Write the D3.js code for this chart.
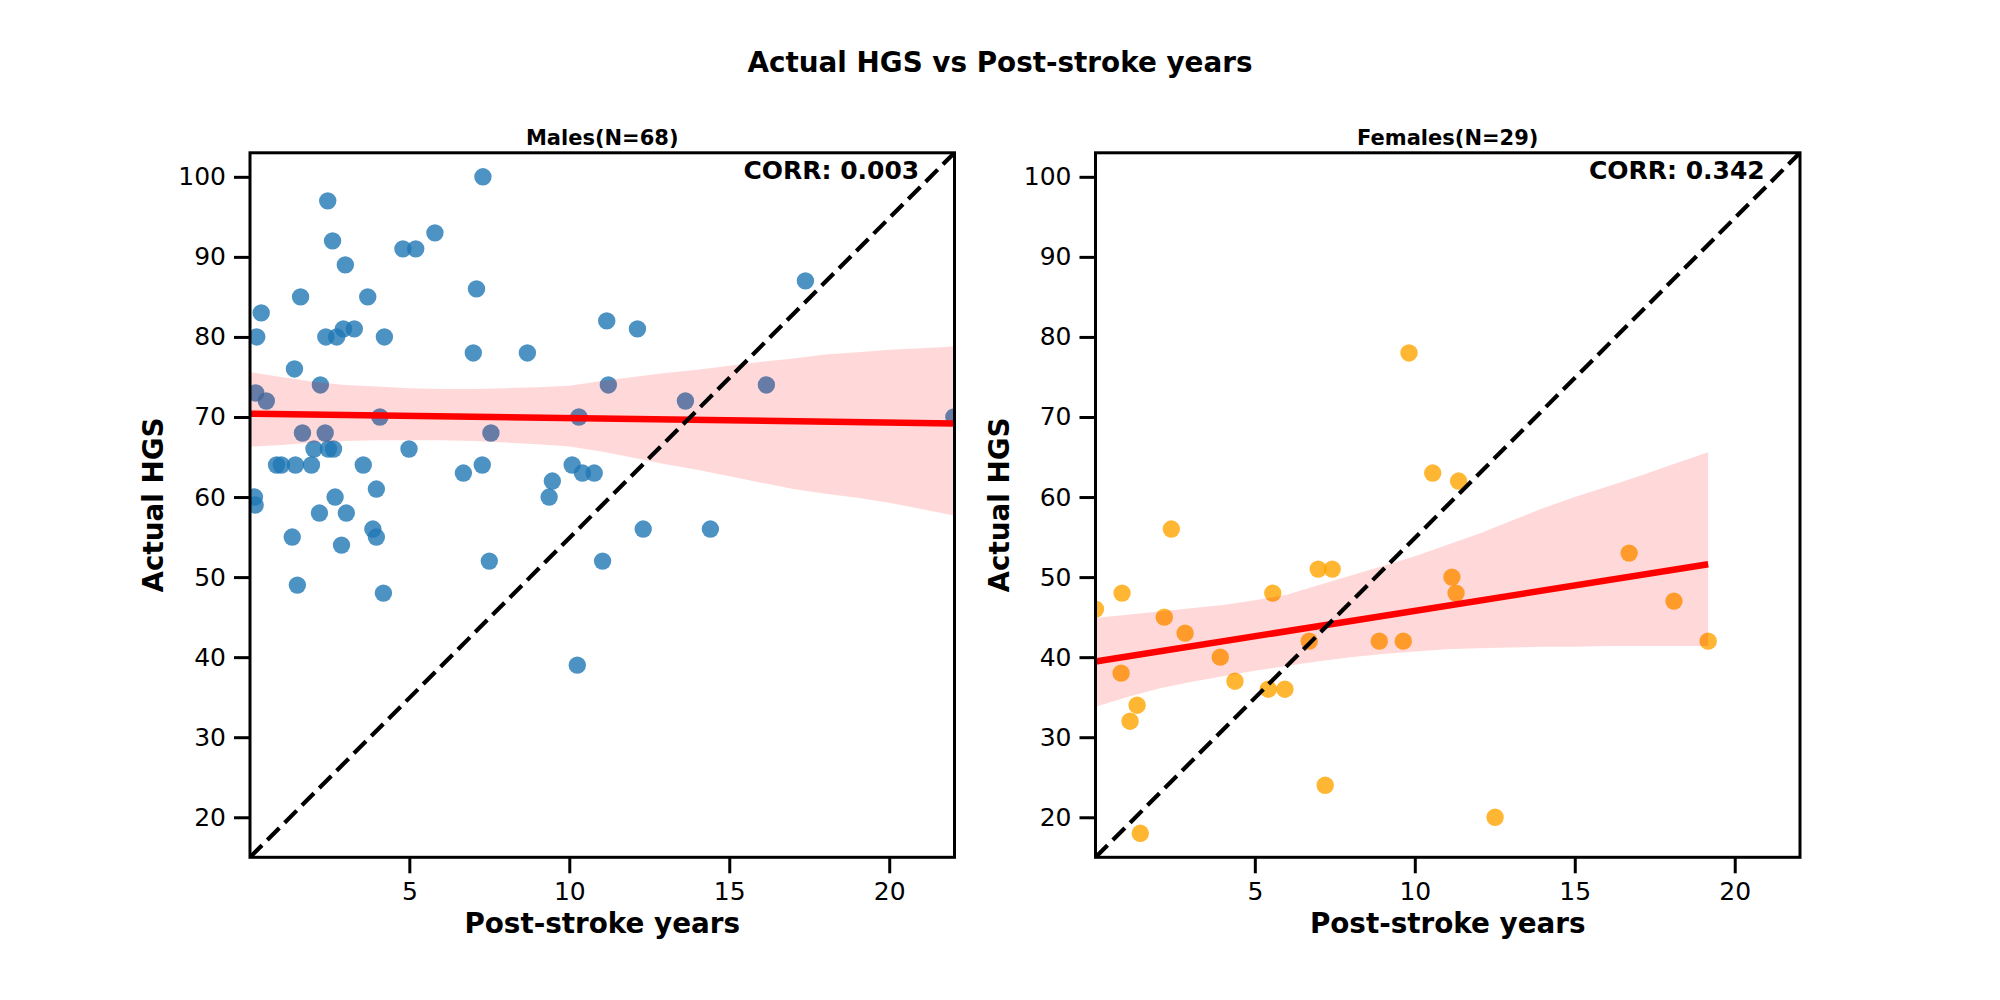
<!DOCTYPE html>
<html>
  <head>
    <title>Actual HGS vs Post-stroke years</title>
    <script src="https://cdn.jsdelivr.net/npm/d3@7"></script>
    <style>
      body { margin: 0; background: #fff; }
      svg { font-family: "DejaVu Sans", sans-serif; }
    </style>
  </head>
  <body>
    <div id="main"></div>
    <script>
      var WIDTH = 2000, HEIGHT = 1000;
      var TOP = 152.8, BOTTOM = 857.3, AXW = 704.5;   // square axes

      // males
      var maleYears = [7.3, 2.45, 2.6, 3.0, 5.8, 4.8, 5.2, 1.6, 3.7, 7.1, 0.37, 0.23, 2.39, 2.73, 2.94, 3.28, 4.22,
        7.0, 8.69, 11.17, 1.41, 2.22, 0.2, 0.53, 4.08, 10.3, 1.66, 2.37, 7.55, 11.22, 2.02, 2.47, 2.63, 4.99,
        0.85, 1.0, 1.44, 1.94, 3.56, 7.28, 6.69, 10.09, 10.41, 10.78, 9.47, 9.37, 3.97, 2.68, 0.16, 0.18,
        2.19, 3.03, 3.86, 3.97, 1.34, 2.88, 7.5, 11.04, 1.5, 4.19, 12.13, 17.38, 16.16, 13.63, 22.02, 12.31,
        14.41, 10.25];
      var maleHGS = [100, 97, 92, 89, 93, 91, 91, 85, 85, 86, 83, 80, 80, 80, 81, 81, 80,
        78, 78, 82, 76, 74, 73, 72, 70, 70, 68, 68, 68, 74, 66, 66, 66, 66,
        64, 64, 64, 64, 64, 64, 63, 64, 63, 63, 62, 60, 61, 60, 60, 59,
        58, 58, 56, 55, 55, 54, 52, 52, 49, 48, 81, 87, 74, 72, 70, 56,
        56, 39];
      var maleFitX = [0.02, 22.02];
      var maleFitY = [70.4, 69.2];
      var maleBandX = [0.02, 1, 2, 3, 4, 5, 6, 7, 8, 9, 10, 11, 12, 13, 14, 15, 16, 17, 18, 19, 20, 21, 22.02];
      var maleBandLo = [66.3, 66.5, 66.8, 67.0, 67.1, 67.1, 67.1, 67.0, 66.8, 66.6, 66.3, 65.7, 64.9, 64.1,
        63.4, 62.6, 61.8, 61.0, 60.4, 59.9, 59.3, 58.5, 57.7];
      var maleBandHi = [75.6, 75.0, 74.4, 74.0, 73.8, 73.6, 73.5, 73.5, 73.6, 73.7, 73.9, 74.5, 75.0, 75.5,
        75.9, 76.4, 76.9, 77.3, 77.8, 78.1, 78.4, 78.6, 78.8];

      // females
      var femaleYears = [9.82, 10.56, 11.37, 2.39, 6.98, 7.42, 11.16, 0.85, 5.56, 11.29, 0.02, 2.17, 2.82,
        6.7, 8.89, 9.64, 3.92, 0.82, 4.38, 5.42, 5.94, 1.32, 1.1, 7.2, 1.42, 12.51, 16.7, 18.1, 19.17];
      var femaleHGS = [78, 63, 62, 56, 51, 51, 50, 48, 48, 48, 46, 45, 43,
        42, 42, 42, 40, 38, 37, 36, 36, 34, 32, 24, 18, 20, 53, 47, 42];
      var femaleFitX = [0.02, 19.17];
      var femaleFitY = [39.45, 51.6];
      var femaleBandX = [0.02, 1, 2, 3, 4, 5, 6, 7, 8, 9, 10, 11, 12, 13, 14, 15, 16, 17, 18, 19.17];
      var femaleBandLo = [33.8, 35.0, 36.1, 36.9, 37.6, 38.3, 38.9, 39.5, 40.0, 40.4, 40.7, 41.0, 41.1, 41.2,
        41.3, 41.3, 41.4, 41.4, 41.4, 41.4];
      var femaleBandHi = [44.9, 45.3, 45.7, 46.1, 46.5, 47.1, 47.8, 49.0, 50.2, 51.4, 52.6, 54.0, 55.4, 57.0,
        58.6, 60.0, 61.3, 62.6, 64.0, 65.6];

      var xTicks = [5, 10, 15, 20];
      var yTicks = [20, 30, 40, 50, 60, 70, 80, 90, 100];
      var xDomain = [0.02, 22.04], yDomain = [15, 103];

      var panels = [
        { title: 'Males(N=68)', corr: 'CORR: 0.003', left: 250, color: '#1f77b4',
          xs: maleYears, ys: maleHGS, fitX: maleFitX, fitY: maleFitY,
          bandX: maleBandX, bandLo: maleBandLo, bandHi: maleBandHi },
        { title: 'Females(N=29)', corr: 'CORR: 0.342', left: 1095.5, color: 'orange',
          xs: femaleYears, ys: femaleHGS, fitX: femaleFitX, fitY: femaleFitY,
          bandX: femaleBandX, bandLo: femaleBandLo, bandHi: femaleBandHi }
      ];

      var svg = d3.select('#main').append('svg')
                  .attr('width', WIDTH).attr('height', HEIGHT);

      svg.append('text')
        .attr('x', WIDTH / 2).attr('y', 71.5)
        .attr('text-anchor', 'middle')
        .style('font-size', '27.8px').style('font-weight', 'bold')
        .text('Actual HGS vs Post-stroke years');

      panels.forEach(function(p, k) {
        var x = d3.scaleLinear().domain(xDomain).range([p.left, p.left + AXW]);
        var y = d3.scaleLinear().domain(yDomain).range([BOTTOM, TOP]);
        var g = svg.append('g');

        var clipId = 'clip' + k;
        svg.append('clipPath').attr('id', clipId)
          .append('rect')
            .attr('x', p.left).attr('y', TOP)
            .attr('width', AXW).attr('height', BOTTOM - TOP);

        var plot = g.append('g').attr('clip-path', 'url(#' + clipId + ')');

        // scatter
        plot.selectAll('circle').data(p.xs)
          .enter().append('circle')
            .attr('cx', function(d) { return x(d); })
            .attr('cy', function(d, i) { return y(p.ys[i]); })
            .attr('r', 8.7)
            .attr('fill', p.color)
            .attr('fill-opacity', 0.8);

        // confidence band
        var area = d3.area()
          .x(function(d) { return x(d); })
          .y0(function(d, i) { return y(p.bandLo[i]); })
          .y1(function(d, i) { return y(p.bandHi[i]); });
        plot.append('path').datum(p.bandX)
          .attr('d', area)
          .attr('fill', 'red').attr('fill-opacity', 0.15);

        // regression line
        var line = d3.line()
          .x(function(d) { return x(d); })
          .y(function(d, i) { return y(p.fitY[i]); });
        plot.append('path').datum(p.fitX)
          .attr('d', line)
          .attr('fill', 'none').attr('stroke', 'red').attr('stroke-width', 6.5);

        // corner-to-corner dashed reference
        plot.append('line')
          .attr('x1', x.range()[0]).attr('y1', y.range()[0])
          .attr('x2', x.range()[1]).attr('y2', y.range()[1])
          .attr('stroke', 'black').attr('stroke-width', 4.2)
          .attr('stroke-dasharray', '17,7.5');

        // axes
        var xAxis = g.append('g').attr('transform', 'translate(0,' + BOTTOM + ')')
          .call(d3.axisBottom(x).tickValues(xTicks).tickFormat(d3.format('d'))
                  .tickSize(16).tickPadding(9).tickSizeOuter(0));
        var yAxis = g.append('g').attr('transform', 'translate(' + p.left + ',0)')
          .call(d3.axisLeft(y).tickValues(yTicks).tickFormat(d3.format('d'))
                  .tickSize(16).tickPadding(8).tickSizeOuter(0));
        [xAxis, yAxis].forEach(function(a) {
          a.select('.domain').remove();
          a.selectAll('.tick line').attr('stroke', 'black').attr('stroke-width', 3);
          a.selectAll('.tick text').attr('fill', 'black')
            .style('font-size', '25px').style('font-family', '"DejaVu Sans", sans-serif');
        });

        // frame
        g.append('rect')
          .attr('x', p.left).attr('y', TOP)
          .attr('width', AXW).attr('height', BOTTOM - TOP)
          .attr('fill', 'none').attr('stroke', 'black').attr('stroke-width', 3);

        // texts
        g.append('text')
          .attr('x', p.left + AXW / 2).attr('y', 144.5)
          .attr('text-anchor', 'middle')
          .style('font-size', '21px').style('font-weight', 'bold')
          .text(p.title);

        g.append('text')
          .attr('x', p.left + 0.95 * AXW).attr('y', 179.3)
          .attr('text-anchor', 'end')
          .style('font-size', '25px').style('font-weight', 'bold')
          .text(p.corr);

        g.append('text')
          .attr('x', p.left + AXW / 2).attr('y', 932.7)
          .attr('text-anchor', 'middle')
          .style('font-size', '27.8px').style('font-weight', 'bold')
          .text('Post-stroke years');

        g.append('text')
          .attr('transform', 'translate(' + (p.left - 86.7) + ',' + ((TOP + BOTTOM) / 2) + ') rotate(-90)')
          .attr('text-anchor', 'middle')
          .style('font-size', '27.8px').style('font-weight', 'bold')
          .text('Actual HGS');
      });
    </script>
  </body>
</html>
